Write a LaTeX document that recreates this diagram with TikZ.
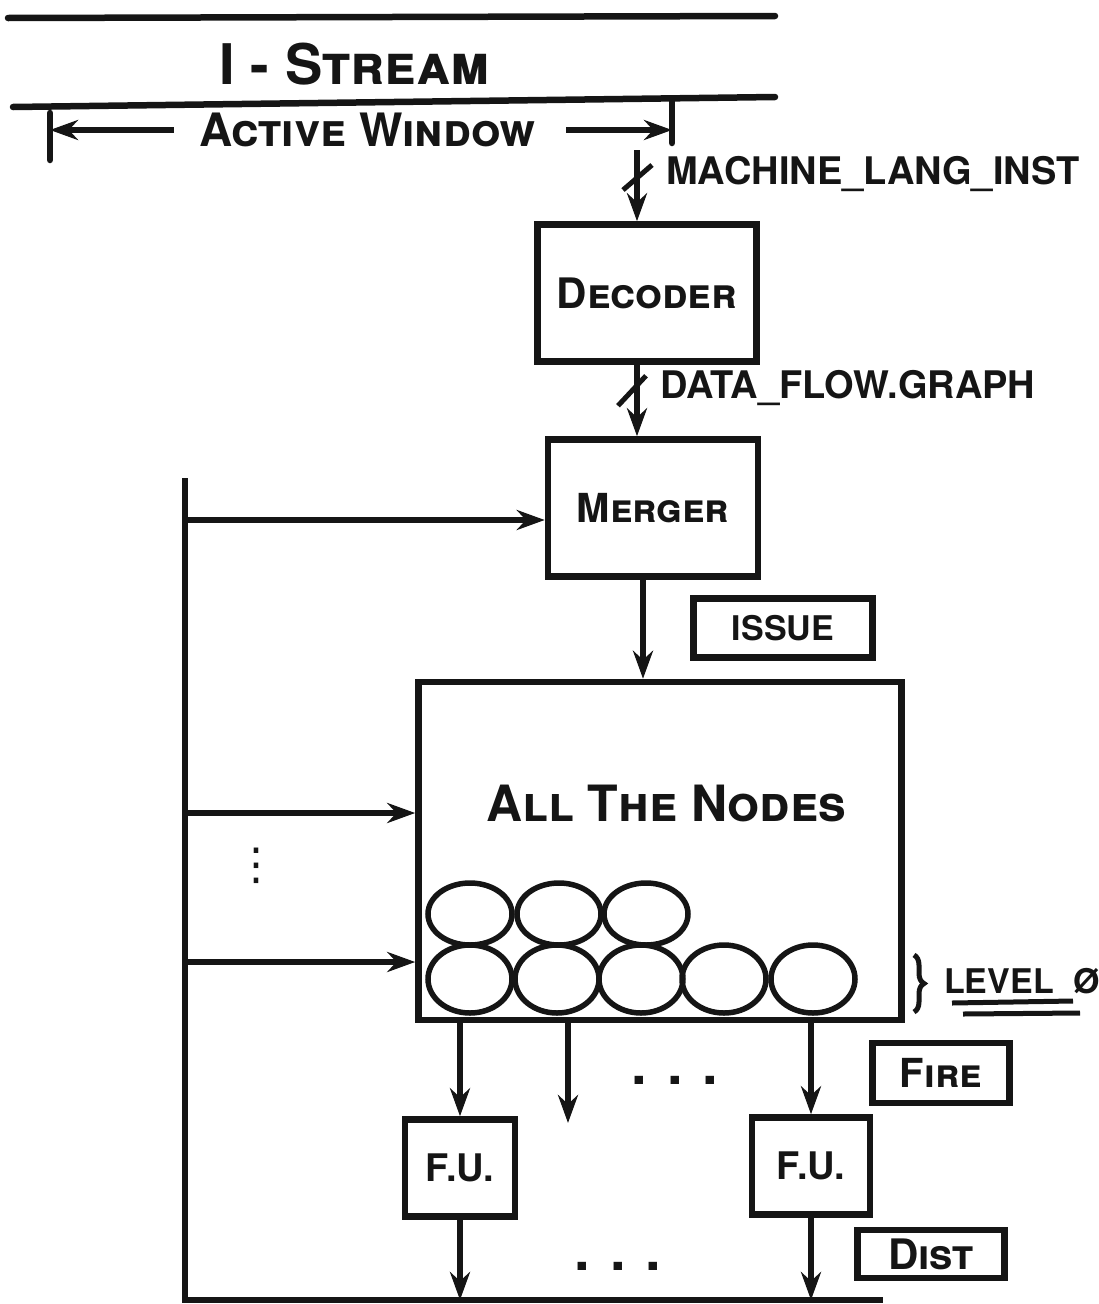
\documentclass[tikz,border=0pt]{standalone}
\usepackage{fontspec}
\setmainfont{TeX Gyre Heros}
\newfontfamily\symfont{DejaVu Sans}
\usetikzlibrary{arrows.meta,shapes.geometric,decorations.pathreplacing}
\definecolor{ink}{HTML}{151515}
\newcommand{\hand}[1]{\fontsize{#1}{#1}\selectfont\bfseries}
\tikzset{
  box/.style={draw=ink, line width=6.5pt, inner sep=0pt, align=center, text=ink},
  ar/.style={-{Stealth[length=28pt,width=20pt]}, line width=6pt, draw=ink},
  rule/.style={line width=6.5pt, draw=ink, line cap=round},
  lbl/.style={text=ink, inner sep=0pt},
  bubble/.style={ellipse, draw=ink, line width=5.5pt, inner sep=0pt,
                 minimum width=84pt}
}

\begin{document}
\begin{tikzpicture}[x=1pt,y=-1pt]
  \useasboundingbox (0,0) rectangle (1099,1304);

  % instruction stream and window
  \draw[rule] (8,18) -- (775,16);
  \node[lbl, font=\hand{56}\scshape] (strm) at (355,64) {I - Stream};
  \draw[rule] (13,107) -- (775,97);
  \coordinate (winL) at (50,113);
  \coordinate (winR) at (672,99);
  \draw[rule] (winL) -- ++(0,47);
  \draw[rule] (winR) -- ++(0,44);
  \node[lbl, font=\hand{46}\scshape] (win) at (368,130) {Active Window};
  \draw[ar] ([xshift=-26pt]win.west) -- (win.west -| winL);
  \draw[ar] ([xshift=30pt]win.east) -- (win.east -| winR);

  % decoder
  \coordinate (instIn) at (637,150);
  \node[box, minimum width=219pt, minimum height=137pt, font=\hand{42}\scshape] (dec) at (647,293) {Decoder};
  \draw[ar] (instIn) -- (instIn |- dec.north);
  \draw[line width=5pt, draw=ink] (instIn) ++(-14,40) -- ++(29,-25);
  \node[lbl, anchor=west, font=\hand{38}] (instLbl) at (666,174) {MACHINE\_LANG\_INST};

  % merger
  \node[box, minimum width=210pt, minimum height=137pt, font=\hand{40}\scshape] (mrg) at (653,508) {Merger};
  \coordinate (decOut) at (instIn |- dec.south);
  \draw[ar] (decOut) -- (decOut |- mrg.north);
  \draw[line width=5pt, draw=ink] (decOut) ++(-19,41) -- ++(28,-30);
  \node[lbl, anchor=west, font=\hand{38}] (dfgLbl) at (660,388) {DATA\_FLOW.GRAPH};

  \node[box, minimum width=179pt, minimum height=59pt, font=\hand{34}] (issue) at (783,628) {ISSUE};

  % node pool
  \node[box, minimum width=483pt, minimum height=338pt] (pool) at (660,851) {};
  \node[lbl, font=\hand{50}\scshape] (poolLbl) at (666,803) {All The Nodes};
  \coordinate (mOut) at ([xshift=-10pt]mrg.south);
  \draw[ar] (mOut) -- (mOut |- pool.north);
  \foreach \cx [count=\i] in {470,559,646}
    \node[bubble, minimum height=62pt] (top\i) at (\cx,914) {};
  \foreach \cx [count=\i] in {470,557,641,724,813}
    \node[bubble, minimum height=68pt] (bot\i) at (\cx,979) {};

  % level 0
  \draw[line width=5pt, draw=ink, decorate, decoration={brace, amplitude=10pt}] (914,955) -- (914,1012);
  \node[lbl, anchor=west, font=\hand{34}] (lvl) at (944,981) {LEVEL\hspace{20pt}Ø};
  \draw[line width=5pt, draw=ink] (952,1003) -- (1073,1001);
  \draw[line width=5pt, draw=ink] (963,1014) -- (1080,1013);

  % feedback bus
  \coordinate (busTop) at (185,478);
  \coordinate (busBot) at (185,1300);
  \coordinate (busEnd) at (883,1300);
  \draw[line width=6.5pt, draw=ink] (busTop) -- (busBot) -- (busEnd);
  \coordinate (tapM) at (185,520);
  \coordinate (tapA) at (185,813);
  \coordinate (tapB) at (185,962);
  \draw[ar] (tapM) -- (tapM -| mrg.west);
  \foreach \t in {tapA,tapB}
    \draw[ar] (\t) -- (\t -| pool.west);
  \node[lbl, font=\fontsize{44}{44}\selectfont\symfont] (more) at (256,866) {⋮};

  % fire and functional units
  \node[box, minimum width=137pt, minimum height=60pt, font=\hand{40}\scshape] (fire) at (941,1073) {Fire};
  \node[box, minimum width=110pt, minimum height=97pt, font=\hand{38}] (fuA) at (460,1168) {F.U.};
  \node[box, minimum width=118pt, minimum height=97pt, font=\hand{38}] (fuB) at (811,1166) {F.U.};
  \coordinate (fireMid) at (568,1123);
  \draw[ar] (pool.south -| fuA.north) -- (fuA.north);
  \draw[ar] (pool.south -| fireMid) -- (fireMid);
  \draw[ar] (pool.south -| fuB.north) -- (fuB.north);
  \node[lbl, font=\hand{56}] (dotsF) at (675,1080) {.\hspace{20pt}.\hspace{20pt}.};

  \node[box, minimum width=147pt, minimum height=48pt, font=\hand{42}\scshape] (dist) at (931,1254) {Dist};
  \draw[ar] (fuA.south) -- (fuA.south |- busBot);
  \draw[ar] (fuB.south) -- (fuB.south |- busBot);
  \node[lbl, font=\hand{56}] (dotsD) at (618,1266) {.\hspace{20pt}.\hspace{20pt}.};
\end{tikzpicture}
\end{document}
